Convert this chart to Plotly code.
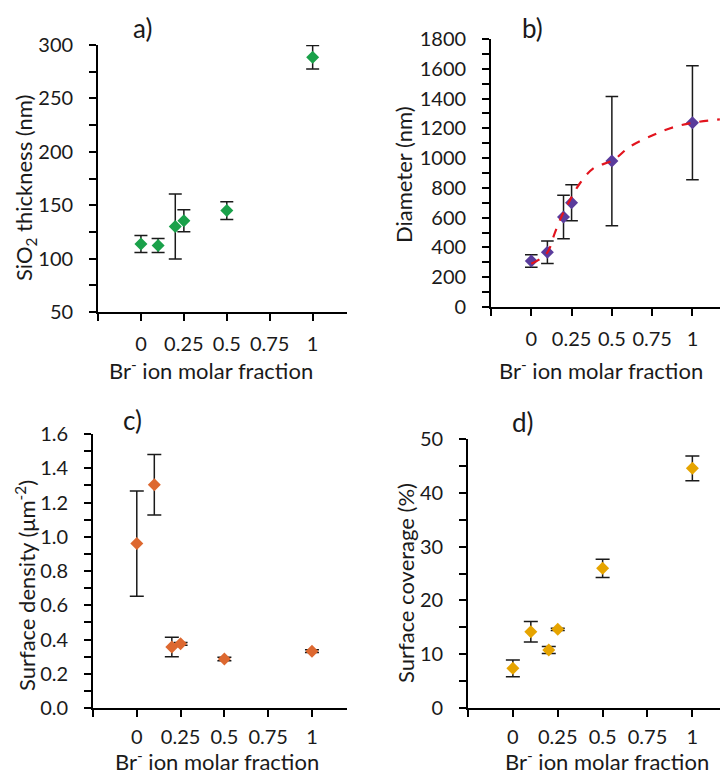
import plotly.graph_objects as go

# Br- ion molar fraction of each sample
br_fraction = [0.0, 0.1, 0.2, 0.25, 0.5, 1.0]

# a) SiO2 shell thickness (nm)
thickness = [113.6, 112.3, 130.1, 135.4, 145.0, 288.5]
thickness_err = [8.0, 6.5, 30.5, 10.3, 8.3, 11.0]

# b) particle diameter (nm)
diameter = [309, 368, 605, 700, 980, 1238]
diameter_err = [42, 75, 146, 121, 434, 383]

# b) fitted growth trend, sampled along the curve
fit_x = [0.0, 0.096, 0.145, 0.187, 0.24, 0.302, 0.385, 0.509, 0.612, 0.757, 0.881, 1.005, 1.17]
fit_y = [290, 360, 495, 606, 718, 831, 931, 987, 1077, 1155, 1207, 1238, 1260]

# c) surface density (um^-2)
density = [0.960, 1.304, 0.356, 0.375, 0.286, 0.332]
density_err = [0.307, 0.177, 0.057, 0.008, 0.010, 0.008]

# d) surface coverage (%)
coverage = [7.37, 14.19, 10.78, 14.62, 25.96, 44.55]
coverage_err = [1.55, 1.90, 0.65, 0.20, 1.70, 2.30]

x_tickvals = [-0.25, 0, 0.25, 0.5, 0.75, 1]
x_ticktext = ["", "0", "0.25", "0.5", "0.75", "1"]

FONT = "Lato"
TICK_FS = 20
TITLE_FS = 22
INK = "#1a1a1a"
W, H = 720, 771

GREEN = "#1aa14a"
PURPLE = "#5a3c9c"
ORANGE = "#dd6830"
GOLD = "#e6a400"
RED = "#e2141e"


def px_x(a, b):
    return [a / W, b / W]


def px_y(top, bottom):
    return [1 - bottom / H, 1 - top / H]


fig = go.Figure()


def add_points(xref, yref, y, err, color, cap):
    fig.add_trace(go.Scatter(
        x=br_fraction, y=y, mode="markers",
        xaxis=xref, yaxis=yref,
        marker=dict(symbol="diamond", size=10, color=color, line=dict(width=0)),
        error_y=dict(type="data", array=err, visible=True, color=INK,
                     thickness=1.5, width=cap),
        showlegend=False, hoverinfo="x+y",
    ))


add_points("x", "y", thickness, thickness_err, GREEN, 6.5)
add_points("x2", "y2", diameter, diameter_err, PURPLE, 6.3)
fig.add_trace(go.Scatter(
    x=fit_x, y=fit_y, mode="lines", xaxis="x2", yaxis="y2",
    line=dict(color=RED, width=2.2, dash="dash", shape="spline", smoothing=1.0),
    showlegend=False, hoverinfo="skip",
))
add_points("x3", "y3", density, density_err, ORANGE, 7)
add_points("x4", "y4", coverage, coverage_err, GOLD, 7)

axis_common = dict(
    showline=True, linecolor="black", linewidth=1.7, mirror=False,
    showgrid=False, zeroline=False, automargin=False,
    ticks="outside", ticklen=7, tickwidth=1.5, tickcolor="black",
    tickfont=dict(family=FONT, size=TICK_FS, color=INK),
)


def xaxis_def(domain, rng, anchor, standoff):
    return dict(
        axis_common, domain=domain, range=rng, anchor=anchor,
        tickmode="array", tickvals=x_tickvals, ticktext=x_ticktext,
        ticklabelstandoff=standoff,
    )


def yaxis_def(domain, rng, dtick, minor, anchor, fmt=None):
    d = dict(
        axis_common, domain=domain, range=rng, anchor=anchor,
        tick0=0, dtick=dtick, ticklabelstandoff=12,
        minor=dict(dtick=minor, ticks="outside", ticklen=7, tickwidth=1.5,
                   tickcolor="black", showgrid=False),
    )
    if fmt:
        d["tickformat"] = fmt
    return d


fig.update_layout(
    width=W, height=H,
    margin=dict(l=0, r=0, t=0, b=0),
    paper_bgcolor="white", plot_bgcolor="white",
    font=dict(family=FONT, size=TICK_FS, color=INK),
    xaxis=xaxis_def(px_x(98, 347), [-0.25, 1.2], "y", 6),
    yaxis=yaxis_def(px_y(45, 312), [50, 300], 50, 25, "x"),
    xaxis2=xaxis_def(px_x(491, 720), [-0.25, 1.171], "y2", 6),
    yaxis2=yaxis_def(px_y(39, 307), [0, 1800], 200, 100, "x2"),
    xaxis3=xaxis_def(px_x(93, 347), [-0.25, 1.2], "y3", 3),
    yaxis3=yaxis_def(px_y(434, 708), [0, 1.6], 0.2, 0.1, "x3", fmt=".1f"),
    xaxis4=xaxis_def(px_x(468, 720), [-0.25, 1.154], "y4", 3),
    yaxis4=yaxis_def(px_y(439, 708), [0, 50], 10, 5, "x4"),
)


def paper_text(text, xp, yp, size, angle=0):
    fig.add_annotation(
        x=xp / W, y=1 - yp / H, xref="paper", yref="paper",
        text=text, showarrow=False, xanchor="center", yanchor="middle",
        textangle=angle, font=dict(family=FONT, size=size, color=INK),
    )


# axis titles
x_title = "Br<sup>-</sup> ion molar fraction"
for xp, yp in [(211, 369), (601, 369), (217, 760), (607, 760)]:
    paper_text(x_title, xp, yp, TITLE_FS)

paper_text("SiO<sub>2</sub> thickness (nm)", 25, 188, TITLE_FS, -90)
paper_text("Diameter (nm)", 404, 175, TITLE_FS, -90)
paper_text("Surface density (\u03bcm<sup>-2</sup>)", 25, 586, TITLE_FS, -90)
paper_text("Surface coverage (%)", 405, 583, TITLE_FS, -90)

# panel letters
for label, xp, yp in [("a)", 142, 28), ("b)", 532, 28), ("c)", 132, 420), ("d)", 523, 422)]:
    paper_text(label, xp, yp, 26)

fig.write_html("out.html")
